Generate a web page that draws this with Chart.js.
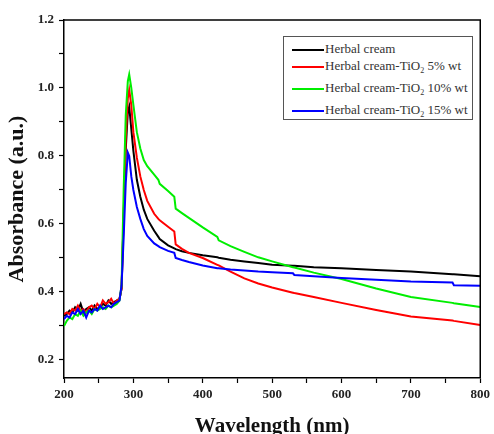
<!DOCTYPE html>
<html>
<head>
<meta charset="utf-8">
<script src="https://cdn.jsdelivr.net/npm/chart.js@4"></script>
<style>
  body { margin: 0; background: #fff; }
  #wrap { position: relative; width: 494px; height: 434px; }
  #legend {
    position: absolute; left: 283px; top: 36px; width: 190px; height: 84px;
    box-sizing: border-box; border: 1px solid #555; background: #fff;
    font-family: "Liberation Serif", serif; font-size: 13px; color: #333;
  }
  .row { position: absolute; left: 8px; height: 16px; line-height: 16px; white-space: nowrap; }
  .row i { display: inline-block; width: 32px; height: 2.5px; vertical-align: middle; margin-right: 1px; }
  .row sub { font-size: 8px; vertical-align: -3px; line-height: 0; }
</style>
</head>
<body>
<div id="wrap">
  <canvas id="uvChart" width="494" height="434"></canvas>
  <div id="legend"></div>
</div>
<script>
// Comprimentos de onda (nm)
const wavelength = [
  200, 204, 208, 212, 216, 220, 224, 228, 232, 236, 240, 244, 248, 252, 256, 260, 264, 268, 272, 276, 280,
  283, 286, 289, 292, 294, 297, 300, 305, 310, 315, 320, 330, 336, 338, 350, 359, 361, 370, 380, 400,
  421, 423, 440, 460, 480, 500, 530, 532, 560, 600, 650, 700, 760, 762, 800
];

// Absorbância de cada amostra
const herbal = [
  0.330, 0.335, 0.345, 0.340, 0.355, 0.345, 0.365, 0.340, 0.350, 0.355, 0.345, 0.360, 0.350, 0.355, 0.365, 0.360, 0.375, 0.365, 0.370, 0.375, 0.380,
  0.410, 0.620, 0.820, 0.930, 0.945, 0.880, 0.815, 0.730, 0.680, 0.642, 0.615, 0.580, 0.562, 0.556, 0.537, 0.528, 0.526, 0.520, 0.515, 0.508,
  0.502, 0.501, 0.495, 0.490, 0.485, 0.480, 0.477, 0.477, 0.473, 0.470, 0.465, 0.460, 0.452, 0.452, 0.446
];
const tio2_5 = [
  0.335, 0.340, 0.335, 0.350, 0.345, 0.360, 0.345, 0.350, 0.340, 0.355, 0.360, 0.350, 0.365, 0.355, 0.375, 0.365, 0.370, 0.380, 0.365, 0.375, 0.380,
  0.410, 0.630, 0.850, 0.970, 0.995, 0.950, 0.870, 0.795, 0.740, 0.700, 0.668, 0.630, 0.615, 0.611, 0.592, 0.578, 0.540, 0.527, 0.515, 0.500,
  0.480, 0.478, 0.460, 0.440, 0.425, 0.413, 0.398, 0.397, 0.385, 0.368, 0.347, 0.328, 0.316, 0.315, 0.303
];
const tio2_10 = [
  0.300, 0.315, 0.325, 0.320, 0.335, 0.330, 0.345, 0.330, 0.340, 0.345, 0.335, 0.350, 0.345, 0.350, 0.355, 0.350, 0.360, 0.355, 0.360, 0.365, 0.375,
  0.420, 0.700, 0.920, 1.020, 1.040, 1.000, 0.950, 0.870, 0.822, 0.788, 0.770, 0.745, 0.730, 0.718, 0.697, 0.680, 0.645, 0.632, 0.618, 0.590,
  0.562, 0.552, 0.535, 0.518, 0.502, 0.490, 0.473, 0.472, 0.457, 0.438, 0.410, 0.385, 0.368, 0.367, 0.356
];
const tio2_15 = [
  0.320, 0.330, 0.325, 0.340, 0.335, 0.350, 0.335, 0.345, 0.325, 0.345, 0.340, 0.350, 0.345, 0.360, 0.350, 0.355, 0.360, 0.355, 0.365, 0.370, 0.375,
  0.420, 0.560, 0.720, 0.810, 0.800, 0.740, 0.700, 0.650, 0.615, 0.585, 0.565, 0.543, 0.535, 0.532, 0.521, 0.515, 0.500, 0.494, 0.488, 0.478,
  0.470, 0.470, 0.466, 0.463, 0.460, 0.458, 0.455, 0.450, 0.446, 0.441, 0.436, 0.431, 0.428, 0.420, 0.418
];

const seriesNames = ["Herbal cream", "Herbal cream-TiO2 5% wt", "Herbal cream-TiO2 10% wt", "Herbal cream-TiO2 15% wt"];
const seriesValues = [herbal, tio2_5, tio2_10, tio2_15];
const seriesColors = ["#000000", "#ff0000", "#00ee00", "#0000ff"];
const drawOrder = [3, 2, 1, 0];

const xTicks = [200, 300, 400, 500, 600, 700, 800];
const yTicks = [0.2, 0.4, 0.6, 0.8, 1.0, 1.2];

const serif = '"Liberation Serif", "Times New Roman", serif';

// Moldura superior e direita
const framePlugin = {
  id: "frame",
  afterDraw(chart) {
    const { ctx, chartArea: a } = chart;
    ctx.save();
    ctx.strokeStyle = "#000";
    ctx.lineWidth = 1.5;
    ctx.beginPath();
    ctx.moveTo(a.left, a.top);
    ctx.lineTo(a.right, a.top);
    ctx.lineTo(a.right, a.bottom);
    ctx.stroke();
    ctx.restore();
  },
};

const datasets = seriesValues.map((vals, k) => ({
  label: seriesNames[k],
  data: wavelength.map((w, i) => ({ x: w, y: vals[i] })),
  borderColor: seriesColors[k],
  borderWidth: 2,
  pointRadius: 0,
  tension: 0,
  order: drawOrder[k],
}));

new Chart(document.getElementById("uvChart").getContext("2d"), {
  type: "line",
  data: { datasets: datasets },
  plugins: [framePlugin],
  options: {
    responsive: false,
    animation: false,
    layout: { padding: { left: 0, top: 20, right: 11, bottom: 0 } },
    plugins: { legend: { display: false }, tooltip: { enabled: false } },
    scales: {
      x: {
        type: "linear",
        min: 200,
        max: 800,
        afterBuildTicks(scale) {
          const t = [];
          for (let v = 200; v <= 800; v += 50) t.push({ value: v });
          scale.ticks = t;
        },
        afterFit(scale) { scale.height = 56; },
        grid: { drawOnChartArea: false, tickLength: 5, color: "#000", tickWidth: 1.2 },
        border: { color: "#000", width: 1.5 },
        ticks: {
          padding: 4,
          color: "#222",
          font: { family: serif, size: 13, weight: "bold" },
          maxRotation: 0,
          autoSkip: false,
          callback: (v) => (xTicks.includes(v) ? String(v) : ""),
        },
        title: {
          display: true,
          text: "Wavelength (nm)",
          color: "#111",
          font: { family: serif, size: 21, weight: "bold" },
          padding: { top: 0, bottom: -5 },
        },
      },
      y: {
        type: "linear",
        min: 0.147,
        max: 1.2,
        afterBuildTicks(scale) {
          const t = [];
          for (let k = 2; k <= 12; k++) t.push({ value: k / 10 });
          scale.ticks = t;
        },
        afterFit(scale) { scale.width = 64; },
        grid: { drawOnChartArea: false, tickLength: 5, color: "#000", tickWidth: 1.2 },
        border: { color: "#000", width: 1.5 },
        ticks: {
          padding: 5,
          color: "#222",
          font: { family: serif, size: 13, weight: "bold" },
          autoSkip: false,
          callback: (v) => (yTicks.some((t) => Math.abs(t - v) < 1e-6) ? v.toFixed(1) : ""),
        },
        title: {
          display: true,
          text: "Absorbance (a.u.)",
          color: "#111",
          font: { family: serif, size: 22, weight: "bold" },
          padding: { top: 4, bottom: 4 },
        },
      },
    },
  },
});

// Legenda dentro da área do gráfico
const legendRows = [48, 65, 87, 109];
const legend = document.getElementById("legend");
seriesNames.forEach((name, k) => {
  const row = document.createElement("div");
  row.className = "row";
  row.style.top = legendRows[k] - 36 - 8 + "px";
  const html = name.replace("TiO2", "TiO<sub>2</sub>");
  row.innerHTML = '<i style="background:' + seriesColors[k] + '"></i>' + html;
  legend.appendChild(row);
});
</script>
</body>
</html>
